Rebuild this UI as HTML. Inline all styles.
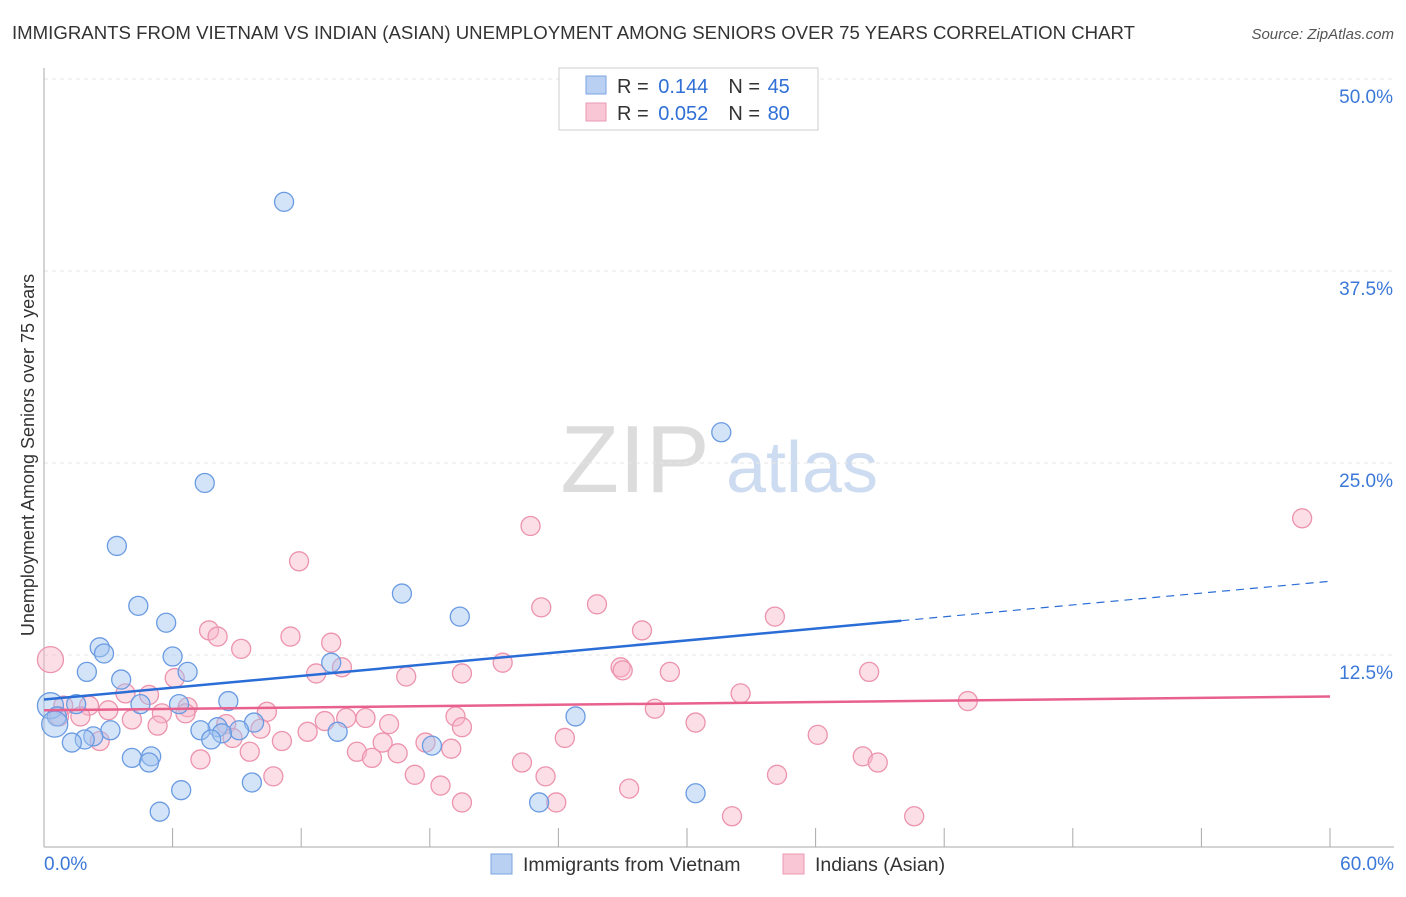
<!DOCTYPE html>
<html><head><meta charset="utf-8">
<style>
body{margin:0;background:#fff;font-family:"Liberation Sans",sans-serif;}
svg text{font-family:"Liberation Sans",sans-serif;}
</style></head>
<body>
<svg id="chart" width="1406" height="892">
<text x="12" y="39" font-size="18" fill="#333" textLength="1123" lengthAdjust="spacingAndGlyphs">IMMIGRANTS FROM VIETNAM VS INDIAN (ASIAN) UNEMPLOYMENT AMONG SENIORS OVER 75 YEARS CORRELATION CHART</text>
<text x="1394" y="39" font-size="15" fill="#555" font-style="italic" text-anchor="end">Source: ZipAtlas.com</text>
<text x="635" y="492" font-size="96" fill="#dcdcdc" font-family="Liberation Serif" text-anchor="middle">ZIP</text>
<text x="802" y="492" font-size="72" fill="#cddcf0" text-anchor="middle">atlas</text>
<g id="grid"></g>
<g id="axes"></g>
<g id="pts"></g>
<g id="lines"></g>
<text transform="translate(34,455) rotate(-90)" font-size="18" fill="#333" text-anchor="middle">Unemployment Among Seniors over 75 years</text>
<g>
<rect x="559" y="68" width="259" height="62" fill="#fff" stroke="#ccc"/>
<rect x="586" y="76" width="20" height="18" fill="#b9d0f3" stroke="#7aa4e2"/>
<rect x="586" y="103" width="20" height="18" fill="#f8c6d5" stroke="#ec9ab3"/>
<text x="617" y="93" font-size="20" fill="#333">R = <tspan fill="#2f6fd6" dx="4">0.144</tspan><tspan dx="20" fill="#333">N = </tspan><tspan fill="#2f6fd6" dx="2">45</tspan></text>
<text x="617" y="120" font-size="20" fill="#333">R = <tspan fill="#2f6fd6" dx="4">0.052</tspan><tspan dx="20" fill="#333">N = </tspan><tspan fill="#2f6fd6" dx="2">80</tspan></text>
</g>
<g>
<rect x="491" y="854" width="21" height="20" fill="#b9d0f3" stroke="#7aa4e2"/>
<text x="523" y="871" font-size="19.5" fill="#333">Immigrants from Vietnam</text>
<rect x="783" y="854" width="21" height="20" fill="#f8c6d5" stroke="#ec9ab3"/>
<text x="815" y="871" font-size="19.5" fill="#333">Indians (Asian)</text>
</g>
</svg>
<script>
const yTicks=[12.5,25,37.5,50];
const yTickLabels=["12.5%","25.0%","37.5%","50.0%"];
const xTicks=[0,6,12,18,24,30,36,42,48,54,60];
const xTickLabels=["0.0%","60.0%"];
const blueX=[11.2,31.6,7.5,3.4,16.7,4.4,19.4,5.7,2.6,2.8,6.0,13.4,2.0,6.7,3.6,8.6,6.3,4.5,1.5,0.3,0.6,0.5,24.8,9.8,8.1,3.1,7.3,9.1,13.7,8.3,2.3,1.9,1.3,7.8,18.1,5.0,4.1,4.9,6.4,9.7,5.4,30.4,23.1];
const blueY=[42.0,27.0,23.7,19.6,16.5,15.7,15.0,14.6,13.0,12.6,12.4,12.0,11.4,11.4,10.9,9.5,9.3,9.3,9.3,9.2,8.5,8.0,8.5,8.1,7.8,7.6,7.6,7.6,7.5,7.4,7.2,7.0,6.8,7.0,6.6,5.9,5.8,5.5,3.7,4.2,2.3,3.5,2.9];
const pinkX=[0.3,58.7,22.7,11.9,23.2,25.8,34.1,27.9,7.7,8.1,11.5,13.4,9.2,21.4,26.9,27.0,29.2,38.5,19.5,13.9,16.9,12.7,6.1,32.5,43.1,3.8,4.9,0.9,2.1,3.0,6.7,28.5,5.5,6.6,10.4,1.7,0.7,4.1,8.5,14.1,15.0,13.1,19.2,19.5,16.1,30.4,5.3,10.1,12.3,8.8,2.6,15.8,11.1,17.8,19.0,24.3,36.1,9.6,14.6,16.5,15.3,22.3,38.2,38.9,7.3,17.3,23.4,10.7,34.2,18.5,27.3,19.5,23.9,32.1,40.6];
const pinkY=[12.2,21.4,20.9,18.6,15.6,15.8,15.0,14.1,14.1,13.7,13.7,13.3,12.9,12.0,11.7,11.5,11.4,11.4,11.3,11.7,11.1,11.3,11.0,10.0,9.5,10.0,9.9,9.2,9.2,8.9,9.1,9.0,8.7,8.7,8.8,8.5,8.5,8.3,8.0,8.4,8.4,8.2,8.5,7.8,8.0,8.1,7.9,7.7,7.5,7.1,6.9,6.8,6.9,6.8,6.4,7.1,7.3,6.2,6.2,6.1,5.8,5.5,5.9,5.5,5.7,4.7,4.6,4.6,4.7,4.0,3.8,2.9,2.9,2.0,2.0];
const blueTrend=[9.6,17.3];
const blueSolidEnd=[40];
const pinkTrend=[8.9,9.8];
const NS='http://www.w3.org/2000/svg';
const sx=v=>44+v/60*1286;
const sy=v=>847-v/12.5*192;
function mk(tag,attrs,parent){const e=document.createElementNS(NS,tag);for(const k in attrs)e.setAttribute(k,attrs[k]);parent.appendChild(e);return e;}
const grid=document.getElementById('grid'),axes=document.getElementById('axes'),pts=document.getElementById('pts'),lines=document.getElementById('lines');
yTicks.forEach((t,i)=>{
  const l=mk('line',{x1:44,x2:1394,y1:sy(t),y2:sy(t),stroke:'#e6e6e6','stroke-dasharray':'4,4'},grid);
  
  
  const tx=mk('text',{x:1393,y:sy(t)+24,'font-size':19,fill:'#3b78d8','text-anchor':'end'},axes);
  tx.textContent=yTickLabels[i];
  
  
});
const yl=mk('line',{x1:44,x2:44,y1:68,y2:847,stroke:'#aaa'},axes);


const xl=mk('line',{x1:44,x2:1394,y1:847,y2:847,stroke:'#aaa'},axes);


xTicks.forEach(t=>{
  const l=mk('line',{x1:sx(t),x2:sx(t),y1:828,y2:847,stroke:'#aaa'},axes);
  
  
});
const xt0=mk('text',{x:44,y:870,'font-size':19,fill:'#3b78d8'},axes);xt0.textContent=xTickLabels[0];


const xt1=mk('text',{x:1394,y:870,'font-size':19,fill:'#3b78d8','text-anchor':'end'},axes);xt1.textContent=xTickLabels[1];


function dots(X,Y,fill,stroke,name){
  X.forEach((x,i)=>{
    const r=(x<0.6&&i<=25)?13:9.5;
    const c=mk('circle',{cx:sx(x),cy:sy(Y[i]),r:r,fill:fill,stroke:stroke,'stroke-width':1.3},pts);
    
    
  });
}
dots(pinkX,pinkY,'rgba(248,182,202,0.45)','#ec93ad','point-indians');
dots(blueX,blueY,'rgba(160,195,240,0.45)','#6a9be2','point-vietnam');
const bAt=x=>blueTrend[0]+(blueTrend[1]-blueTrend[0])*x/60;
const b1=mk('line',{x1:sx(0),y1:sy(bAt(0)),x2:sx(blueSolidEnd[0]),y2:sy(bAt(blueSolidEnd[0])),stroke:'#2a6dd6','stroke-width':2.5},lines);


const b2=mk('line',{x1:sx(blueSolidEnd[0]),y1:sy(bAt(blueSolidEnd[0])),x2:sx(60),y2:sy(bAt(60)),stroke:'#2a6dd6','stroke-width':1.2,'stroke-dasharray':'8,6'},lines);


const p1=mk('line',{x1:sx(0),y1:sy(pinkTrend[0]),x2:sx(60),y2:sy(pinkTrend[1]),stroke:'#e8608d','stroke-width':2.5},lines);


</script>
</body></html>
